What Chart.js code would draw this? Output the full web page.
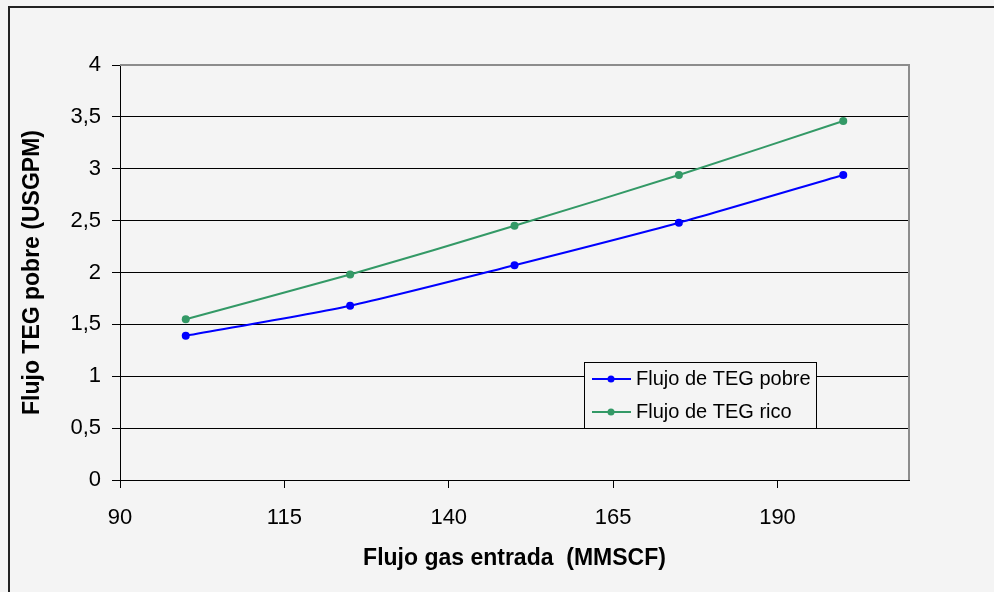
<!DOCTYPE html>
<html>
<head>
<meta charset="utf-8">
<script src="https://cdn.jsdelivr.net/npm/chart.js@4/dist/chart.umd.min.js"></script>
<style>
  html, body { margin: 0; padding: 0; background: #f4f4f4; }
  #wrap { position: relative; width: 994px; height: 592px; overflow: hidden; }
  #frame { position: absolute; left: 8px; top: 6px; width: 1100px; height: 700px;
           border-left: 2px solid #222; border-top: 2px solid #222; }
  canvas { position: absolute; left: 0; top: 0; }
</style>
</head>
<body>
<div id="wrap">
  <div id="frame"></div>
  <canvas id="chart" width="994" height="592"></canvas>
</div>
<script>
// --- Datos ---
const flujoGas = [100, 125, 150, 175, 200];
const tegPobre = [1.39, 1.68, 2.07, 2.48, 2.94];
const tegRico = [1.55, 1.98, 2.45, 2.94, 3.46];
const xTicks = [90, 115, 140, 165, 190];

const FONT = 'Arial, "Liberation Sans", sans-serif';

// Borde gris del área de trazado (arriba y derecha)
const plotBorder = {
  id: 'plotBorder',
  afterDraw(chart) {
    const { ctx, chartArea: a } = chart;
    ctx.save();
    ctx.strokeStyle = '#8c8c8c';
    ctx.lineWidth = 2;
    ctx.beginPath();
    ctx.moveTo(a.left, a.top);
    ctx.lineTo(a.right, a.top);
    ctx.lineTo(a.right, a.bottom);
    ctx.stroke();
    ctx.strokeStyle = '#000';
    ctx.lineWidth = 1;
    ctx.beginPath();
    ctx.moveTo(a.left, a.bottom + 0.5);
    ctx.lineTo(a.right, a.bottom + 0.5);
    ctx.stroke();
    ctx.restore();
  }
};

// Leyenda dentro del gráfico, como en Excel
const boxLegend = {
  id: 'boxLegend',
  afterDraw(chart) {
    const ctx = chart.ctx;
    const x = 584, y = 362, w = 232, h = 66;
    ctx.save();
    ctx.fillStyle = '#f4f4f4';
    ctx.fillRect(x, y, w, h);
    ctx.strokeStyle = '#000';
    ctx.lineWidth = 1;
    ctx.strokeRect(x + 0.5, y + 0.5, w, h);
    ctx.font = '20px ' + FONT;
    ctx.textBaseline = 'middle';
    chart.data.datasets.forEach((ds, i) => {
      const cy = 379 + i * 33;
      ctx.strokeStyle = ds.borderColor;
      ctx.lineWidth = 2;
      ctx.beginPath();
      ctx.moveTo(592, cy);
      ctx.lineTo(631, cy);
      ctx.stroke();
      ctx.fillStyle = ds.borderColor;
      ctx.beginPath();
      ctx.arc(611, cy, 3.5, 0, Math.PI * 2);
      ctx.fill();
      ctx.fillStyle = '#000';
      ctx.fillText(ds.label, 636, cy);
    });
    ctx.restore();
  }
};

new Chart(document.getElementById('chart'), {
  type: 'line',
  data: {
    datasets: [
      {
        label: 'Flujo de TEG pobre',
        data: flujoGas.map((x, i) => ({ x: x, y: tegPobre[i] })),
        borderColor: '#0000ff',
        backgroundColor: '#0000ff',
        borderWidth: 2,
        pointRadius: 4,
        pointBorderWidth: 0,
        tension: 0.25
      },
      {
        label: 'Flujo de TEG rico',
        data: flujoGas.map((x, i) => ({ x: x, y: tegRico[i] })),
        borderColor: '#339966',
        backgroundColor: '#339966',
        borderWidth: 2,
        pointRadius: 4,
        pointBorderWidth: 0,
        tension: 0.25
      }
    ]
  },
  options: {
    responsive: false,
    animation: false,
    layout: { padding: { top: 65, right: 85, bottom: 0, left: 0 } },
    plugins: { legend: { display: false }, tooltip: { enabled: false } },
    scales: {
      x: {
        type: 'linear',
        min: 90,
        max: 210,
        afterBuildTicks: scale => { scale.ticks = xTicks.map(v => ({ value: v })); },
        afterFit: scale => { scale.height = 112; },
        grid: { drawOnChartArea: false, tickLength: 8, tickColor: '#000' },
        border: { color: '#000', width: 1 },
        ticks: { color: '#000', padding: 17, maxRotation: 0, font: { family: FONT, size: 22 } },
        title: {
          display: true,
          text: 'Flujo gas entrada  (MMSCF)',
          color: '#000',
          font: { family: FONT, size: 23, weight: 'bold' },
          padding: { top: 0, bottom: 20 }
        }
      },
      y: {
        min: 0,
        max: 4,
        afterFit: scale => { scale.width = 120; },
        grid: {
          color: ctx => (ctx.tick && ctx.tick.value === 4 ? '#8c8c8c' : '#000'),
          tickLength: 8,
          tickColor: '#000'
        },
        border: { color: '#000', width: 1 },
        ticks: {
          stepSize: 0.5,
          color: '#000',
          padding: 11,
          font: { family: FONT, size: 22 },
          callback: v => String(v).replace('.', ',')
        },
        title: {
          display: true,
          text: 'Flujo TEG pobre (USGPM)',
          color: '#000',
          font: { family: FONT, size: 23, weight: 'bold' },
          padding: { top: 19, bottom: 0 }
        }
      }
    }
  },
  plugins: [plotBorder, boxLegend]
});
</script>
</body>
</html>
